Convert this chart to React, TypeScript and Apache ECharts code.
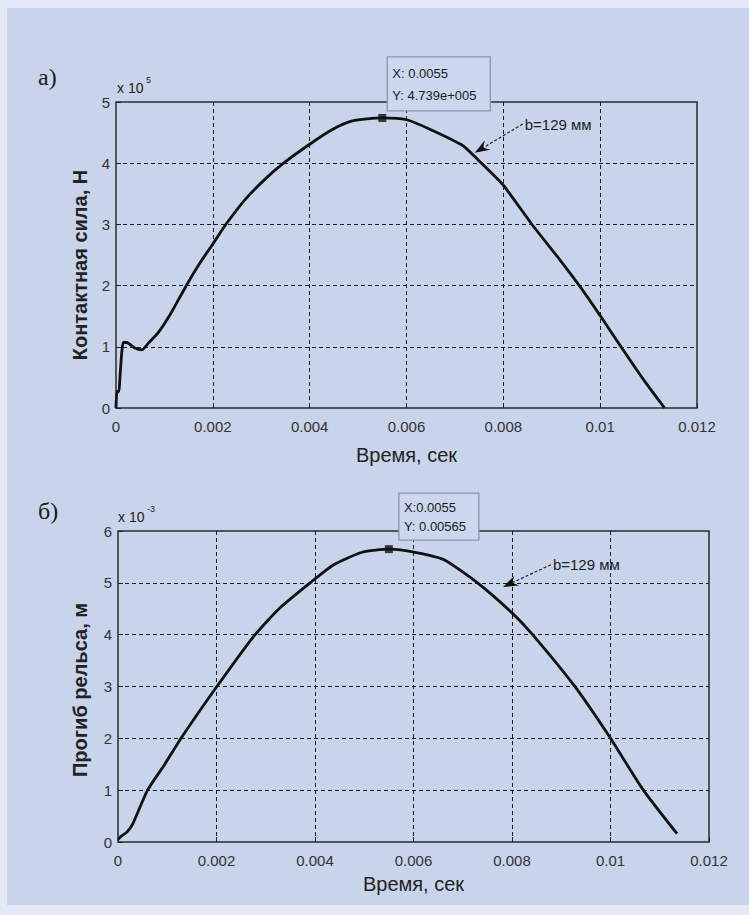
import React, { useEffect, useRef } from "react";
import * as echarts from "echarts";

// ---- data ----
const timeMin = 0;
const timeMax = 0.012;
const timeStep = 0.002;

// contact force, ×1e5 N
const forceTime = [0, 0.00002, 0.00006, 0.00008, 0.00012, 0.00015, 0.00022, 0.00039, 0.00053, 0.00067, 0.00088, 0.00115, 0.00143, 0.0017, 0.002, 0.00226, 0.00267, 0.00308, 0.00346, 0.004, 0.00447, 0.00488, 0.0055, 0.006, 0.00647, 0.00716, 0.00747, 0.008, 0.0086, 0.00916, 0.00957, 0.01, 0.01043, 0.01088, 0.01133];
const forceValues = [0, 0.27, 0.27, 0.48, 0.92, 1.07, 1.07, 0.98, 0.95, 1.06, 1.24, 1.57, 1.97, 2.33, 2.68, 2.99, 3.41, 3.74, 4.0, 4.31, 4.55, 4.69, 4.739, 4.71, 4.56, 4.29, 4.06, 3.64, 2.99, 2.43, 2.0, 1.51, 1.0, 0.48, 0];

// rail deflection, ×1e-3 m
const deflTime = [0.00001, 0.00005, 0.00018, 0.0003, 0.0006, 0.00095, 0.0013, 0.002, 0.00274, 0.00328, 0.0039, 0.00438, 0.00496, 0.0055, 0.00603, 0.00661, 0.0073, 0.00799, 0.0084, 0.00926, 0.00998, 0.01066, 0.01135];
const deflValues = [0.05, 0.1, 0.19, 0.35, 1.0, 1.5, 2.03, 2.99, 3.95, 4.51, 5.0, 5.35, 5.59, 5.65, 5.59, 5.45, 5.0, 4.43, 4.02, 3.02, 2.03, 1.01, 0.16];

const forceMax = 5;
const deflMax = 6;

const forcePeak = [0.0055, 4.739];
const deflPeak = [0.0055, 5.65];
const forceTipLines = ["X: 0.0055", "Y: 4.739e+005"];
const deflTipLines = ["X:0.0055", "Y: 0.00565"];
const annotationText = "b=129 мм";
const forceArrowFrom = [0.0084, 4.64];
const forceArrowTo = [0.00741, 4.17];
const deflArrowFrom = [0.00879, 5.35];
const deflArrowTo = [0.00782, 4.92];

const panelLabels = ["а)", "б)"];
const xName = "Время, сек";
const forceYName = "Контактная сила, Н";
const deflYName = "Прогиб рельса, м";
const forceExp = "5";
const deflExp = "-3";

const SANS = "'Liberation Sans', Arial, sans-serif";

export default function App() {
  const ref = useRef<HTMLDivElement>(null);

  useEffect(() => {
    const chart = echarts.init(ref.current!, undefined, { renderer: "svg", width: 749, height: 915 });

    const grids = [
      { left: 116, top: 102, width: 581, height: 306 },
      { left: 118, top: 531, width: 591, height: 311 },
    ];

    const xAxis = (gi: number, margin: number) => ({
      type: "value",
      gridIndex: gi,
      min: timeMin,
      max: timeMax,
      interval: timeStep,
      axisLine: { show: false },
      axisTick: { show: true, inside: true, length: 5, lineStyle: { color: "#222", width: 1 } },
      axisLabel: {
        margin,
        fontSize: 15,
        color: "#333",
        fontFamily: SANS,
        formatter: (v: number) => String(Number(v.toFixed(4))),
      },
      splitLine: { show: true, showMinLine: false, showMaxLine: false, lineStyle: { color: "#1c1c1c", type: [4, 3], width: 1 } },
    });
    const yAxis = (gi: number, max: number) => ({
      type: "value",
      gridIndex: gi,
      min: 0,
      max,
      interval: 1,
      axisLine: { show: false },
      axisTick: { show: true, inside: true, length: 5, lineStyle: { color: "#222", width: 1 } },
      axisLabel: { margin: 6, fontSize: 15, color: "#333", fontFamily: SANS },
      splitLine: { show: true, showMinLine: false, showMaxLine: false, lineStyle: { color: "#1c1c1c", type: [4, 3], width: 1 } },
    });

    chart.setOption({
      animation: false,
      backgroundColor: "#e3eaf5",
      grid: grids.map((g) => ({ ...g, show: true, borderColor: "#2a2a2a", borderWidth: 1.5, backgroundColor: "transparent" })),
      xAxis: [xAxis(0, 11), xAxis(1, 11)],
      yAxis: [yAxis(0, forceMax), yAxis(1, deflMax)],
      series: [
        {
          type: "line",
          xAxisIndex: 0,
          yAxisIndex: 0,
          data: forceTime.map((t, i) => [t, forceValues[i]]),
          showSymbol: false,
          smooth: 0.2,
          lineStyle: { color: "#111", width: 2.8 },
          z: 3,
        },
        {
          type: "line",
          xAxisIndex: 1,
          yAxisIndex: 1,
          data: deflTime.map((t, i) => [t, deflValues[i]]),
          showSymbol: false,
          smooth: 0.2,
          lineStyle: { color: "#111", width: 2.8 },
          z: 3,
        },
        {
          type: "scatter",
          xAxisIndex: 0,
          yAxisIndex: 0,
          data: [forcePeak],
          symbol: "rect",
          symbolSize: 8,
          itemStyle: { color: "#111" },
          z: 4,
        },
        {
          type: "scatter",
          xAxisIndex: 1,
          yAxisIndex: 1,
          data: [deflPeak],
          symbol: "rect",
          symbolSize: 8,
          itemStyle: { color: "#111" },
          z: 4,
        },
      ],
    });

    const px = (gi: number, p: number[]) => chart.convertToPixel({ gridIndex: gi }, p) as number[];

    const arrow = (gi: number, fromD: number[], toD: number[]) => {
      const a = px(gi, fromD);
      const b = px(gi, toD);
      const dx = b[0] - a[0];
      const dy = b[1] - a[1];
      const len = Math.hypot(dx, dy);
      const ux = dx / len;
      const uy = dy / len;
      const head = 15;
      const half = 5.5;
      const bx = b[0] - ux * head;
      const by = b[1] - uy * head;
      const nx = b[0] - ux * head * 0.65;
      const ny = b[1] - uy * head * 0.65;
      return [
        {
          type: "line",
          shape: { x1: a[0], y1: a[1], x2: nx, y2: ny },
          style: { stroke: "#222", lineWidth: 1.2, lineDash: [3, 2] },
          z: 20,
        },
        {
          type: "polygon",
          shape: {
            points: [
              [b[0], b[1]],
              [bx - uy * half, by + ux * half],
              [nx, ny],
              [bx + uy * half, by - ux * half],
            ],
          },
          style: { fill: "#111" },
          z: 20,
        },
        {
          type: "text",
          x: a[0] + 2,
          y: a[1],
          style: { text: annotationText, fontSize: 15, fontFamily: SANS, fill: "#222", verticalAlign: "middle", align: "left" },
          z: 20,
        },
      ];
    };

    const tip = (gi: number, peak: number[], lines: string[], off: number[], size: number[]) => {
      const p = px(gi, peak);
      const x = p[0] + off[0];
      const y = p[1] + off[1];
      return [
        {
          type: "rect",
          shape: { x, y, width: size[0], height: size[1] },
          style: { fill: "#cbd7ed", stroke: "#8c97ab", lineWidth: 1.3 },
          z: 18,
        },
        {
          type: "text",
          x: x + 5,
          y: y + size[1] * 0.3,
          style: { text: lines[0], fontSize: 13, fontFamily: SANS, fill: "#1a1a1a", verticalAlign: "middle" },
          z: 19,
        },
        {
          type: "text",
          x: x + 5,
          y: y + size[1] * 0.71,
          style: { text: lines[1], fontSize: 13, fontFamily: SANS, fill: "#1a1a1a", verticalAlign: "middle" },
          z: 19,
        },
      ];
    };

    const txt = (x: number, y: number, text: string, extra: any = {}) => ({
      type: "text",
      x,
      y,
      style: { text, fontFamily: SANS, fill: "#222", ...extra },
      z: 15,
    });

    const g0 = grids[0];
    const g1 = grids[1];

    chart.setOption({
      graphic: [
        { type: "rect", shape: { x: 7, y: 8, width: 742, height: 897 }, style: { fill: "#c8d4ea" }, z: -10 },
        txt(38, 77, panelLabels[0], { fontFamily: "'Liberation Serif', 'Times New Roman', serif", fontSize: 24, verticalAlign: "middle", fill: "#1a1a1a" }),
        txt(38, 511, panelLabels[1], { fontFamily: "'Liberation Serif', 'Times New Roman', serif", fontSize: 24, verticalAlign: "middle", fill: "#1a1a1a" }),
        txt(117, 88, "x 10", { fontSize: 14, verticalAlign: "middle" }),
        txt(146, 80, forceExp, { fontSize: 9, verticalAlign: "middle" }),
        txt(118, 517, "x 10", { fontSize: 14, verticalAlign: "middle" }),
        txt(147, 509, deflExp, { fontSize: 9, verticalAlign: "middle" }),
        txt(g0.left + g0.width / 2, 455, xName, { fontSize: 20, align: "center", verticalAlign: "middle" }),
        txt(g1.left + g1.width / 2, 884, xName, { fontSize: 20, align: "center", verticalAlign: "middle" }),
        {
          type: "text",
          x: 80,
          y: 265,
          rotation: Math.PI / 2,
          style: { text: forceYName, fontFamily: SANS, fontSize: 20, fontWeight: "bold", fill: "#222", align: "center", verticalAlign: "middle" },
          z: 15,
        },
        {
          type: "text",
          x: 80,
          y: 690,
          rotation: Math.PI / 2,
          style: { text: deflYName, fontFamily: SANS, fontSize: 20, fontWeight: "bold", fill: "#222", align: "center", verticalAlign: "middle" },
          z: 15,
        },
        ...tip(0, forcePeak, forceTipLines, [5, -61], [103, 54]),
        ...tip(1, deflPeak, deflTipLines, [10, -56], [80, 47]),
        ...arrow(0, forceArrowFrom, forceArrowTo),
        ...arrow(1, deflArrowFrom, deflArrowTo),
      ],
    });

    return () => chart.dispose();
  }, []);

  return <div ref={ref} style={{ position: "absolute", left: 0, top: 0, width: 749, height: 915 }} />;
}
